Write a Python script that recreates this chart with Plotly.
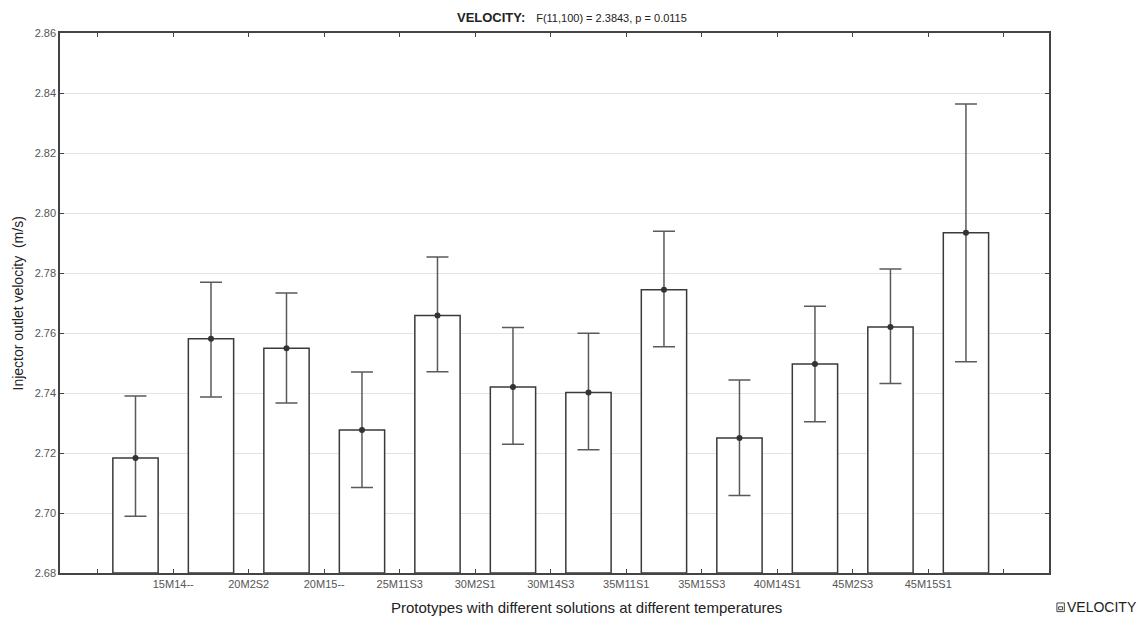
import plotly.graph_objects as go

# Data
positions = [1, 2, 3, 4, 5, 6, 7, 8, 9, 10, 11, 12]
means = [2.7183, 2.7581, 2.7549, 2.7277, 2.7658, 2.7420, 2.7402, 2.7744, 2.7250, 2.7497, 2.7620, 2.7934]
upper = [2.7390, 2.7769, 2.7733, 2.7470, 2.7853, 2.7618, 2.7599, 2.7939, 2.7443, 2.7689, 2.7813, 2.8363]
lower = [2.6989, 2.7387, 2.7367, 2.7085, 2.7471, 2.7229, 2.7211, 2.7554, 2.7058, 2.7304, 2.7432, 2.7504]
tick_positions = [0.5, 1.5, 2.5, 3.5, 4.5, 5.5, 6.5, 7.5, 8.5, 9.5, 10.5, 11.5, 12.5]
tick_labels = ["", "15M14--", "20M2S2", "20M15--", "25M11S3", "30M2S1", "30M14S3",
               "35M11S1", "35M15S3", "40M14S1", "45M2S3", "45M15S1", ""]
y_ticks = [2.68, 2.70, 2.72, 2.74, 2.76, 2.78, 2.80, 2.82, 2.84, 2.86]

base = 2.68
err_plus = [u - m for u, m in zip(upper, means)]
err_minus = [m - l for m, l in zip(means, lower)]

fig = go.Figure()
fig.add_trace(go.Bar(
    x=positions,
    y=[m - base for m in means],
    base=base,
    width=0.6,
    name="VELOCITY",
    marker=dict(color="white", line=dict(color="#3a3a3a", width=1.5)),
    error_y=dict(type="data", symmetric=False, array=err_plus, arrayminus=err_minus,
                 color="#5a5a5a", thickness=1.5, width=11),
    showlegend=False,
))
fig.add_trace(go.Scatter(
    x=positions, y=means, mode="markers",
    marker=dict(color="#333333", size=6),
    showlegend=False, hoverinfo="skip",
))

fig.update_layout(
    width=1137, height=618,
    paper_bgcolor="white", plot_bgcolor="white",
    margin=dict(l=60, r=88, t=33, b=45, autoexpand=False),
    font=dict(family="Liberation Sans, Arial", color="#444444"),
    title=dict(
        text="<b>VELOCITY:</b>   <span style='font-size:11px'>F(11,100) = 2.3843, p = 0.0115</span>",
        x=0.503, xanchor="center", y=0.972, yanchor="middle",
        font=dict(size=13, color="#222222"),
    ),
    showlegend=False,
    annotations=[
        dict(text="Prototypes with different solutions at different temperatures",
             xref="paper", yref="paper", x=0.532, y=-0.063,
             xanchor="center", yanchor="middle", showarrow=False,
             font=dict(size=15, color="#222222")),
        dict(text="Injector outlet velocity  (m/s)",
             xref="paper", yref="paper", x=-0.042, y=0.5, textangle=-90,
             xanchor="center", yanchor="middle", showarrow=False,
             font=dict(size=14, color="#222222")),
        dict(text="VELOCITY",
             xref="paper", yref="paper", x=1.0165, y=-0.063,
             xanchor="left", yanchor="middle", showarrow=False,
             font=dict(size=14, color="#222222")),
    ],
    shapes=[
        dict(type="rect", xref="paper", yref="paper",
             x0=1.008, x1=1.0155, y0=-0.0715, y1=-0.0555,
             line=dict(color="#444444", width=1), fillcolor="white"),
        dict(type="rect", xref="paper", yref="paper",
             x0=1.0098, x1=1.0137, y0=-0.068, y1=-0.0625,
             line=dict(color="#444444", width=1), fillcolor="white"),
    ],
)
fig.update_xaxes(
    range=[0, 13.1],
    tickmode="array", tickvals=tick_positions, ticktext=tick_labels,
    ticks="inside", ticklen=4, tickcolor="#444444",
    showline=True, linecolor="#444444", linewidth=1.5, mirror="ticks",
    showgrid=False, zeroline=False,
    tickfont=dict(size=11, color="#555555"),
)
fig.update_yaxes(
    range=[2.68, 2.86],
    tickmode="array", tickvals=y_ticks, tickformat=".2f",
    ticks="inside", ticklen=4, tickcolor="#444444",
    showline=True, linecolor="#444444", linewidth=1.5, mirror="ticks",
    showgrid=True, gridcolor="#e3e3e3", gridwidth=1, zeroline=False,
    tickfont=dict(size=11, color="#555555"),
)

fig.write_html("out.html")
